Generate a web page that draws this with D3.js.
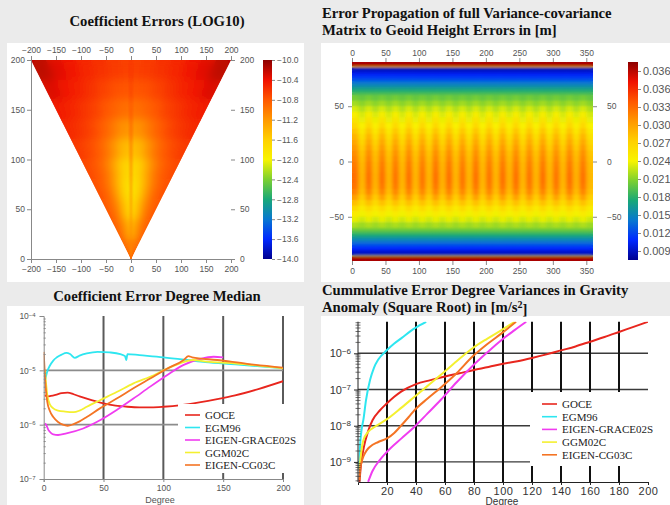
<!DOCTYPE html>
<html>
<head>
<meta charset="utf-8">
<script src="https://cdn.jsdelivr.net/npm/d3@7.9.0/dist/d3.min.js"></script>
<style>
  body { margin: 0; background: #ebebeb; }
  svg { display: block; font-family: "Liberation Sans", Arial, sans-serif; }
  .title { font-family: "Liberation Serif", "Times New Roman", serif; font-weight: bold; font-size: 14.7px; fill: #111; }
  .legend text { font-family: "Liberation Serif", "Times New Roman", serif; font-size: 11px; fill: #222; }
  .ax text { fill: #555; font-size: 8.5px; font-family: "Liberation Sans", Arial, sans-serif; }
  .ax path, .ax line { stroke: #888; }
</style>
</head>
<body>
<svg id="chart" width="670" height="505"></svg>
<script>
// ---- panel 1: coefficient errors (log10), by degree band and |order|/degree
const coefDegreeEdges = [200, 180, 160, 140, 120, 100, 80, 60, 40, 20, 0];
const coefRatioEdges = [0, 0.02, 0.1, 0.25, 0.4, 0.55, 0.7, 0.85, 1];
const coefLog = [
  [-10.64, -10.68, -10.64, -10.58, -10.52, -10.44, -10.34, -10.20],
  [-10.72, -10.80, -10.76, -10.68, -10.58, -10.50, -10.42, -10.32],
  [-10.84, -10.98, -10.90, -10.80, -10.68, -10.60, -10.52, -10.46],
  [-10.96, -11.24, -11.12, -10.94, -10.80, -10.68, -10.60, -10.54],
  [-11.10, -11.56, -11.40, -11.14, -10.94, -10.80, -10.72, -10.64],
  [-11.16, -11.80, -11.64, -11.36, -11.08, -10.90, -10.80, -10.72],
  [-11.20, -11.90, -11.74, -11.44, -11.16, -10.96, -10.84, -10.76],
  [-11.20, -11.80, -11.62, -11.38, -11.14, -10.96, -10.88, -10.80],
  [-11.16, -11.50, -11.40, -11.22, -11.08, -10.96, -10.88, -10.84],
  [-11.08, -11.20, -11.12, -11.04, -11.00, -10.92, -10.88, -10.88]
];
const coefOrderTicks = [-200, -150, -100, -50, 0, 50, 100, 150, 200];
const coefDegreeTicks = [0, 50, 100, 150, 200];
const coefBarTicks = [-10.0, -10.4, -10.8, -11.2, -11.6, -12.0, -12.4, -12.8, -13.2, -13.6, -14.0];

// ---- panel 2: geoid height errors [m], latitude bands x longitude
const geoidLatEdges = [90, 86, 85, 82.5, 80, 77.5, 75, 72.5, 70, 67.5, 65, 62.5, 60, 55, 50, 45, 40, 35, 30, 25, 20, 15, 10, 5, 0,
  -5, -10, -15, -20, -25, -30, -35, -40, -45, -50, -55, -60, -62.5, -65, -67.5, -70, -72.5, -75, -77.5, -80, -82.5, -85, -86, -90];
const geoidBandValues = [0.0395, 0.026, 0.0085, 0.0095, 0.0105, 0.0115, 0.0125, 0.0140, 0.0152, 0.0165, 0.0178, 0.0190,
  0.0202, 0.0214, 0.0226, 0.0238, 0.0246, 0.0254, 0.0264, 0.0274, 0.0282, 0.0290, 0.0296, 0.0300,
  0.0304, 0.0306, 0.0308, 0.0308, 0.0306, 0.0300, 0.0288, 0.0272, 0.0256, 0.0244, 0.0232, 0.0218,
  0.0205, 0.0192, 0.0178, 0.0162, 0.0148, 0.0135, 0.0120, 0.0108, 0.0096, 0.0088, 0.022, 0.0395];
const geoidBandRipple = [0, 0, 0, 0, 0, 0, 0, 0, 0, 0, 0, 0,
  0.0003, 0.0004, 0.0006, 0.0008, 0.0011, 0.0014, 0.0017, 0.0018, 0.0018, 0.0018, 0.0018, 0.0019,
  0.0020, 0.0021, 0.0022, 0.0022, 0.0021, 0.0019, 0.0016, 0.0012, 0.0009, 0.0006, 0.0004, 0.0003,
  0, 0, 0, 0, 0, 0, 0, 0, 0, 0, 0, 0];
const geoidLonRipple = [0.9, -1, 1, -0.9, 1, -1, 0.9, -1, 1, -1, 0.9, -1, 1, -0.9, 1, -1, 0.9, -1,
  1, -1, 0.9, -1, 1, -0.9, 1, -1, 0.9, -1, 1, -1, 0.9, -1, 1, -0.9, 1, -1];
const geoidLonTicks = [0, 50, 100, 150, 200, 250, 300, 350];
const geoidLatTicks = [50, 0, -50];
const geoidBarTicks = [0.039, 0.036, 0.033, 0.030, 0.027, 0.024, 0.021, 0.018, 0.015, 0.012, 0.009];
const geoidBarLabels = ["0.036", "0.036", "0.033", "0.030", "0.027", "0.024", "0.021", "0.018", "0.015", "0.012", "0.009"];

// ---- shared series names / colours
const seriesNames = ["GOCE", "EGM96", "EIGEN-GRACE02S", "GGM02C", "EIGEN-CG03C"];
const seriesColors = ["#e8261e", "#2ee6f0", "#f03cf0", "#f4f030", "#f47424"];

// ---- panel 3: coefficient error degree median, [degree, log10]
const medianGOCE = [[1, -5.46], [3, -5.48], [6, -5.47], [10, -5.45], [15, -5.42], [20, -5.41], [25, -5.44], [30, -5.48],
  [40, -5.55], [50, -5.61], [60, -5.65], [70, -5.67], [80, -5.68], [90, -5.68], [100, -5.67], [115, -5.64],
  [130, -5.59], [145, -5.53], [160, -5.46], [180, -5.34], [200, -5.20]];
const medianEGM96 = [[1, -5.20], [3, -5.02], [5, -4.92], [8, -4.82], [11, -4.76], [15, -4.71], [19, -4.68], [22, -4.70],
  [26, -4.77], [30, -4.73], [36, -4.69], [45, -4.66], [55, -4.67], [64, -4.70], [68, -4.74], [69, -4.81], [70, -4.70],
  [80, -4.72], [100, -4.76], [120, -4.81], [135, -4.85], [160, -4.89], [200, -4.96]];
const medianGRACE02S = [[1, -5.98], [2, -6.00], [4, -6.10], [6, -6.15], [8, -6.18], [12, -6.19], [19, -6.16], [33, -6.07],
  [47, -5.92], [61, -5.73], [75, -5.52], [89, -5.30], [103, -5.09], [117, -4.90], [131, -4.79], [142, -4.75], [150, -4.76]];
const medianGGM02C = [[1, -5.00], [2, -5.25], [3, -5.45], [5, -5.62], [8, -5.70], [12, -5.74], [18, -5.76], [25, -5.77],
  [30, -5.74], [36, -5.67], [47, -5.55], [61, -5.40], [75, -5.24], [92, -5.09], [100, -5.00], [114, -4.87],
  [125, -4.81], [136, -4.84], [159, -4.87], [200, -4.965]];
const medianCG03C = [[0, -4.66], [1, -5.10], [2, -5.40], [3, -5.58], [5, -5.74], [8, -5.86], [12, -5.95], [16, -6.00],
  [20, -6.02], [25, -5.99], [30, -5.94], [36, -5.86], [47, -5.70], [61, -5.52], [75, -5.33], [89, -5.15],
  [103, -4.97], [117, -4.81], [121, -4.74], [124, -4.76], [145, -4.81], [170, -4.88], [200, -4.95]];
const medianDegreeTicks = [0, 50, 100, 150, 200];

// ---- panel 4: cumulative error degree variances, gravity anomaly, [degree, log10]
const cumGOCE = [[1, -9.55], [2, -9.10], [4, -8.60], [7, -8.15], [10, -7.85], [15, -7.58], [20, -7.38], [25, -7.20],
  [30, -7.05], [40, -6.85], [50, -6.74], [60, -6.64], [70, -6.55], [80, -6.46], [90, -6.38], [100, -6.29],
  [110, -6.22], [120, -6.13], [130, -6.03], [140, -5.92], [150, -5.81], [160, -5.68], [170, -5.55],
  [180, -5.41], [190, -5.27], [200, -5.13]];
const cumEGM96 = [[0.8, -9.20], [1.4, -8.58], [2.5, -8.10], [3.7, -7.84], [5.5, -7.30], [8.3, -6.74], [11, -6.40],
  [14, -6.17], [20, -5.91], [25, -5.73], [30, -5.58], [39, -5.31], [47, -5.13]];
const cumGRACE02S = [[7, -9.55], [10, -9.25], [15, -8.95], [20, -8.72], [30, -8.35], [39, -8.03], [48, -7.66],
  [57, -7.29], [68, -6.80], [79, -6.35], [89, -5.98], [99, -5.63], [108, -5.36], [116, -5.13]];
const cumGGM02C = [[1, -9.20], [1.4, -9.04], [2.5, -8.65], [3.7, -8.40], [7, -8.17], [12, -8.02], [20, -7.82],
  [30, -7.50], [39, -7.20], [48, -6.90], [57, -6.60], [68, -6.22], [79, -5.86], [89, -5.60], [99, -5.36], [108, -5.13]];
const cumCG03C = [[1, -9.50], [1.5, -9.20], [2.5, -9.00], [3.7, -8.85], [6, -8.68], [8.3, -8.58], [14, -8.45],
  [20, -8.35], [25, -8.20], [29, -8.03], [35, -7.76], [39, -7.57], [48, -7.25], [57, -6.95], [68, -6.55],
  [79, -6.09], [89, -5.75], [99, -5.45], [109, -5.13]];
const cumDegreeTicks = [20, 40, 60, 80, 100, 120, 140, 160, 180, 200];

// jet-like colour map used by both colour bars
const jetStops = [0, 0.1, 0.2, 0.3, 0.4, 0.5, 0.6, 0.7, 0.8, 0.9, 1];
const jetColors = ["#00008f", "#0028ff", "#0878d0", "#18a878", "#7cd030", "#f8f400", "#ffd000", "#ff9800", "#ff5800", "#f01000", "#8c0000"];
const jet = d3.scaleLinear().domain(jetStops).range(jetColors).interpolate(d3.interpolateRgb).clamp(true);

const svg = d3.select("#chart");
const defs = svg.append("defs");
svg.append("rect").attr("width", 670).attr("height", 505).attr("fill", "#ebebeb");

function gradient(id) {
  const g = defs.append("linearGradient").attr("id", id).attr("x1", 0).attr("y1", 1).attr("x2", 0).attr("y2", 0);
  jetStops.forEach((s, i) => g.append("stop").attr("offset", s).attr("stop-color", jetColors[i]));
}
gradient("jetGrad");

function blurFilter(id, sd) {
  defs.append("filter").attr("id", id).attr("x", "-10%").attr("y", "-10%").attr("width", "120%").attr("height", "120%")
    .append("feGaussianBlur").attr("stdDeviation", sd);
}
blurFilter("blur1", 4.5);
blurFilter("blurStripe", "0.8 3");
blurFilter("blur2", "2.2 0.8");

function styleAxis(g, hideDomain) {
  g.attr("class", "ax");
  if (hideDomain) g.select(".domain").remove();
  return g;
}

function powLabel(text, exp, sup) {
  text.text(null);
  text.append("tspan").text("10");
  text.append("tspan").attr("dy", "-0.45em").attr("font-size", sup).text("\u2212" + Math.abs(exp));
}

// ================= panel 1 =================
{
  svg.append("rect").attr("x", 7).attr("y", 43).attr("width", 297).attr("height", 239).attr("fill", "#fff");
  svg.append("text").attr("class", "title").attr("x", 157).attr("y", 26).attr("text-anchor", "middle")
    .text("Coefficient Errors (LOG10)");

  const x = d3.scaleLinear().domain([-200, 200]).range([31, 231]);
  const y = d3.scaleLinear().domain([0, 200]).range([259, 60]);
  const t = d3.scaleLinear().domain([-14, -10]).range([0, 1]);

  defs.append("clipPath").attr("id", "tri").append("polygon")
    .attr("points", [[x(-200), y(200)], [x(200), y(200)], [x(0), y(0)]].map(p => p.join(",")).join(" "));

  const cells = [];
  coefLog.forEach((row, i) => {
    const nTop = coefDegreeEdges[i], nBot = coefDegreeEdges[i + 1];
    row.forEach((v, j) => {
      const r0 = coefRatioEdges[j], r1 = coefRatioEdges[j + 1];
      [-1, 1].forEach(s => cells.push({
        v, j,
        pts: [[s * r0 * nTop, nTop], [s * r1 * nTop, nTop], [s * r1 * nBot, nBot], [s * r0 * nBot, nBot]]
      }));
    });
  });

  const clip = svg.append("g").attr("clip-path", "url(#tri)");
  const drawCells = (g, list) => g.selectAll("polygon").data(list).join("polygon")
    .attr("points", d => d.pts.map(p => [x(p[0]), y(p[1])].join(",")).join(" "))
    .attr("fill", d => jet(t(d.v))).attr("stroke", d => jet(t(d.v))).attr("stroke-width", 0.6);
  drawCells(clip.append("g"), cells);
  drawCells(clip.append("g").attr("filter", "url(#blur1)"), cells);
  // the m = 0 column keeps its own, sharper stripe
  drawCells(clip.append("g").attr("filter", "url(#blurStripe)").attr("opacity", 0.85), cells.filter(d => d.j === 0));

  styleAxis(svg.append("g").attr("transform", "translate(31,0)")
    .call(d3.axisLeft(y).tickValues(coefDegreeTicks).tickSize(4).tickPadding(2)));
  styleAxis(svg.append("g").attr("transform", "translate(0,259)")
    .call(d3.axisBottom(x).tickValues(coefOrderTicks).tickSize(4).tickPadding(3)));
  styleAxis(svg.append("g").attr("transform", "translate(0,60)")
    .call(d3.axisTop(x).tickValues(coefOrderTicks).tickSize(4).tickPadding(3)), true);
  styleAxis(svg.append("g").attr("transform", "translate(231,0)")
    .call(d3.axisRight(y).tickValues(coefDegreeTicks).tickSize(4).tickPadding(5)), true);

  const cb = d3.scaleLinear().domain([-14, -10]).range([259, 60]);
  svg.append("rect").attr("x", 263).attr("y", 60).attr("width", 9).attr("height", 199).attr("fill", "url(#jetGrad)");
  styleAxis(svg.append("g").attr("transform", "translate(272,0)")
    .call(d3.axisRight(cb).tickValues(coefBarTicks).tickFormat(d3.format(".1f")).tickSize(3).tickPadding(2)), true);
}

// ================= panel 2 =================
{
  svg.append("rect").attr("x", 321).attr("y", 43).attr("width", 349).attr("height", 239).attr("fill", "#fff");
  const tt = svg.append("text").attr("class", "title").attr("x", 322);
  tt.append("tspan").attr("x", 322).attr("y", 18).text("Error Propagation of full Variance-covariance");
  tt.append("tspan").attr("x", 322).attr("y", 35).text("Matrix to Geoid Height Errors in [m]");

  const x = d3.scaleLinear().domain([0, 360]).range([352, 593]);
  const y = d3.scaleLinear().domain([-90, 90]).range([261, 62]);
  const t = d3.scaleLinear().domain([0.0075, 0.0405]).range([0, 1]);

  defs.append("clipPath").attr("id", "geoidClip").append("rect")
    .attr("x", x(0)).attr("y", y(90)).attr("width", x(360) - x(0)).attr("height", y(-90) - y(90));

  const cells = [];
  geoidBandValues.forEach((v, i) => {
    geoidLonRipple.forEach((r, j) => {
      cells.push({ lon0: j * 10, lon1: j * 10 + 10, lat0: geoidLatEdges[i], lat1: geoidLatEdges[i + 1],
        v: v + geoidBandRipple[i] * r });
    });
  });
  const clip = svg.append("g").attr("clip-path", "url(#geoidClip)");
  const drawCells = g => g.selectAll("rect").data(cells).join("rect")
    .attr("x", d => x(d.lon0)).attr("width", d => x(d.lon1) - x(d.lon0) + 0.5)
    .attr("y", d => y(d.lat0)).attr("height", d => y(d.lat1) - y(d.lat0) + 0.3)
    .attr("fill", d => jet(t(d.v)));
  drawCells(clip.append("g"));
  drawCells(clip.append("g").attr("filter", "url(#blur2)"));

  styleAxis(svg.append("g").attr("transform", `translate(0,${y(90)})`)
    .call(d3.axisTop(x).tickValues(geoidLonTicks).tickSize(4).tickPadding(2)), true);
  styleAxis(svg.append("g").attr("transform", `translate(0,${y(-90)})`)
    .call(d3.axisBottom(x).tickValues(geoidLonTicks).tickSize(4).tickPadding(3)), true);
  styleAxis(svg.append("g").attr("transform", `translate(${x(0)},0)`)
    .call(d3.axisLeft(y).tickValues(geoidLatTicks).tickSize(4).tickPadding(4)), true);
  styleAxis(svg.append("g").attr("transform", `translate(${x(360)},0)`)
    .call(d3.axisRight(y).tickValues(geoidLatTicks).tickSize(4).tickPadding(10)), true);

  const cb = d3.scaleLinear().domain([0.0075, 0.0405]).range([260, 62]);
  svg.append("rect").attr("x", 628).attr("y", 62).attr("width", 10).attr("height", 198).attr("fill", "url(#jetGrad)");
  const ca = styleAxis(svg.append("g").attr("transform", "translate(638,0)")
    .call(d3.axisRight(cb).tickValues(geoidBarTicks).tickFormat((d, i) => geoidBarLabels[i]).tickSize(3).tickPadding(2)), true);
  ca.selectAll("text").style("font-size", "11px");
}

// line helper for the two log plots
function drawSeries(g, list, x, y, width) {
  const line = d3.line().x(d => x(d[0])).y(d => y(Math.pow(10, d[1]))).curve(d3.curveMonotoneX);
  g.selectAll("path.s").data(list).join("path").attr("class", "s")
    .attr("d", d => line(d)).attr("fill", "none")
    .attr("stroke", (d, i) => seriesColors[i]).attr("stroke-width", width).attr("stroke-linejoin", "round");
}

function drawLegend(g, x0, y0, step, w) {
  const lg = g.append("g").attr("class", "legend");
  seriesNames.forEach((name, i) => {
    const yy = y0 + i * step;
    lg.append("line").attr("x1", x0).attr("x2", x0 + w).attr("y1", yy).attr("y2", yy)
      .attr("stroke", seriesColors[i]).attr("stroke-width", 1.6);
    lg.append("text").attr("x", x0 + w + 5).attr("y", yy + 4).text(name);
  });
}

// ================= panel 3 =================
{
  svg.append("rect").attr("x", 7).attr("y", 306).attr("width", 297).attr("height", 199).attr("fill", "#fff");
  svg.append("text").attr("class", "title").attr("x", 157).attr("y", 301).attr("text-anchor", "middle")
    .text("Coefficient Error Degree Median");

  const x = d3.scaleLinear().domain([0, 200]).range([43.7, 283]);
  const y = d3.scaleLog().domain([1e-7, 1e-4]).range([479, 316]);

  const grid = svg.append("g");
  grid.selectAll("line.v").data([50, 100, 150, 200]).join("line").attr("class", "v")
    .attr("x1", d => x(d)).attr("x2", d => x(d)).attr("y1", y(1e-4)).attr("y2", y(1e-7))
    .attr("stroke", "#5a5a5a").attr("stroke-width", 2);
  grid.selectAll("line.h").data([1e-5, 1e-6]).join("line").attr("class", "h")
    .attr("x1", x(0)).attr("x2", x(200)).attr("y1", d => y(d)).attr("y2", d => y(d))
    .attr("stroke", "#8c8c8c").attr("stroke-width", 1.6);

  defs.append("clipPath").attr("id", "medClip").append("rect")
    .attr("x", x(0)).attr("y", y(1e-4)).attr("width", x(200) - x(0)).attr("height", y(1e-7) - y(1e-4));
  drawSeries(svg.append("g").attr("clip-path", "url(#medClip)"),
    [medianGOCE, medianEGM96, medianGRACE02S, medianGGM02C, medianCG03C], x, y, 1.8);

  const minors = y.ticks().filter(v => Math.abs(Math.log10(v) - Math.round(Math.log10(v))) > 1e-6);
  styleAxis(svg.append("g").attr("transform", `translate(${x(0)},0)`)
    .call(d3.axisRight(y).tickValues(minors).tickFormat("").tickSize(2)), true);
  const ya = styleAxis(svg.append("g").attr("transform", `translate(${x(0)},0)`)
    .call(d3.axisLeft(y).tickValues([1e-7, 1e-6, 1e-5, 1e-4]).tickSize(4).tickPadding(4)));
  ya.selectAll(".tick text").each(function (d) { powLabel(d3.select(this), Math.round(Math.log10(d)), "6px"); });
  styleAxis(svg.append("g").attr("transform", `translate(0,${y(1e-7)})`)
    .call(d3.axisBottom(x).tickValues(medianDegreeTicks).tickSize(3).tickPadding(3)));
  svg.append("text").attr("class", "ax").attr("x", 160).attr("y", 503).attr("text-anchor", "middle")
    .attr("fill", "#555").style("font-size", "9px").text("Degree");

  const lg = svg.append("g");
  lg.append("rect").attr("x", 178).attr("y", 404).attr("width", 121).attr("height", 69).attr("fill", "#fff");
  drawLegend(lg, 185, 415, 12.5, 15);
}

// ================= panel 4 =================
{
  svg.append("rect").attr("x", 321).attr("y", 316).attr("width", 349).attr("height", 189).attr("fill", "#fff");
  const tt = svg.append("text").attr("class", "title");
  tt.append("tspan").attr("x", 322).attr("y", 295).text("Cummulative Error Degree Variances in Gravity");
  const l2 = tt.append("tspan").attr("x", 322).attr("y", 312);
  l2.append("tspan").text("Anomaly (Square Root) in [m/s");
  l2.append("tspan").attr("dy", "-0.4em").attr("font-size", "10px").text("2");
  l2.append("tspan").attr("dy", "0.4em").text("]");

  const x = d3.scaleLinear().domain([0, 200]).range([358, 648]);
  const y = d3.scaleLog().domain([Math.pow(10, -9.555), Math.pow(10, -5.127)]).range([482, 321.7]);

  const grid = svg.append("g");
  grid.selectAll("line.h").data([1e-6, 1e-7, 1e-8, 1e-9]).join("line").attr("class", "h")
    .attr("x1", x(0)).attr("x2", x(200)).attr("y1", d => y(d)).attr("y2", d => y(d))
    .attr("stroke", "#3a3a3a").attr("stroke-width", 1.4);
  grid.selectAll("line.v").data(cumDegreeTicks.slice(0, -1)).join("line").attr("class", "v")
    .attr("x1", d => x(d)).attr("x2", d => x(d)).attr("y1", y.range()[1]).attr("y2", y.range()[0])
    .attr("stroke", "#111").attr("stroke-width", 2);

  const lg = svg.append("g");
  lg.append("rect").attr("x", 530).attr("y", 392).attr("width", 130).attr("height", 74).attr("fill", "#fff");

  defs.append("clipPath").attr("id", "cumClip").append("rect")
    .attr("x", x(0)).attr("y", y.range()[1]).attr("width", x(200) - x(0)).attr("height", y.range()[0] - y.range()[1]);
  drawSeries(svg.append("g").attr("clip-path", "url(#cumClip)"),
    [cumGOCE, cumEGM96, cumGRACE02S, cumGGM02C, cumCG03C], x, y, 2);

  drawLegend(lg, 542, 404, 12.7, 15);

  const minors = y.ticks().filter(v => Math.abs(Math.log10(v) - Math.round(Math.log10(v))) > 1e-6);
  const ax = svg.append("g").attr("transform", `translate(${x(0)},0)`);
  ax.append("line").attr("y1", y.range()[1]).attr("y2", y.range()[0]).attr("stroke", "#222").attr("stroke-width", 1);
  ax.selectAll("line.m").data(minors).join("line").attr("class", "m")
    .attr("x1", -2.5).attr("x2", 2.5).attr("y1", d => y(d)).attr("y2", d => y(d)).attr("stroke", "#333").attr("stroke-width", 0.7);
  const ya = svg.append("g").attr("transform", `translate(${x(0)},0)`)
    .call(d3.axisLeft(y).tickValues([1e-6, 1e-7, 1e-8, 1e-9]).tickSize(4).tickPadding(3));
  ya.select(".domain").remove();
  ya.selectAll("line").attr("stroke", "#222");
  ya.selectAll(".tick text").attr("fill", "#333").style("font-size", "11px")
    .each(function (d) { powLabel(d3.select(this), Math.round(Math.log10(d)), "8px"); });

  const xa = svg.append("g").attr("transform", `translate(0,${y.range()[0]})`)
    .call(d3.axisBottom(x).tickValues(cumDegreeTicks).tickSize(3).tickPadding(2));
  xa.select(".domain").attr("stroke", "#222");
  xa.selectAll("line").attr("stroke", "#222");
  xa.selectAll("text").attr("fill", "#333").style("font-size", "11px").style("letter-spacing", "0.5px");
  svg.append("text").attr("x", 502).attr("y", 504.5).attr("text-anchor", "middle").attr("fill", "#333")
    .style("font-size", "10px").text("Degree");
}
</script>
</body>
</html>
